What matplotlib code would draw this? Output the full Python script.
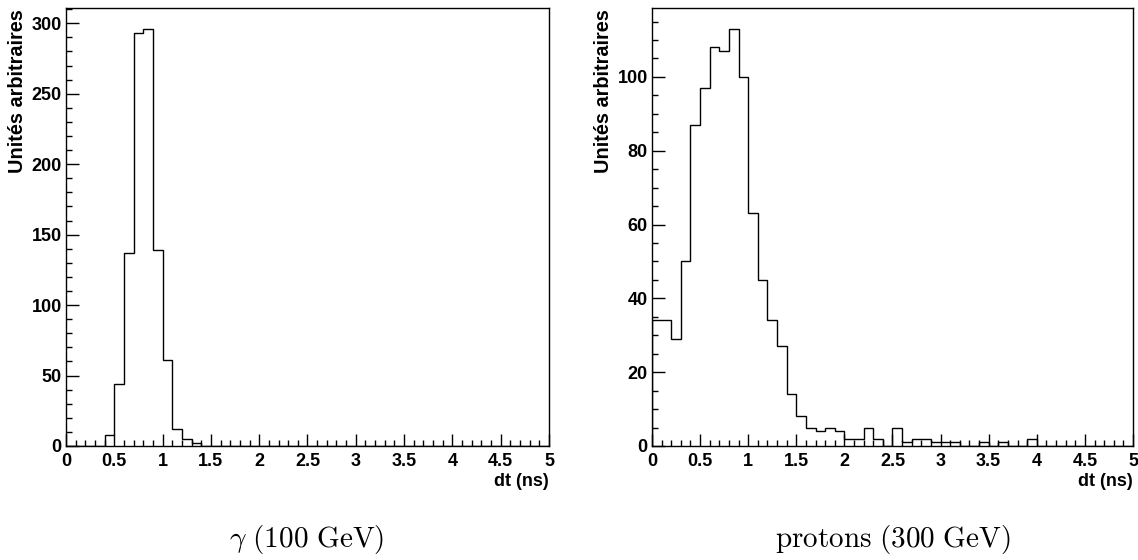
import numpy as np
import matplotlib
matplotlib.use('Agg')
import matplotlib.pyplot as plt
import matplotlib.ticker as ticker

plt.rcParams['font.family'] = ['Liberation Sans', 'DejaVu Sans']
plt.rcParams['font.weight'] = 'bold'
plt.rcParams['mathtext.fontset'] = 'cm'

# 50 bins of 0.1 ns from 0 to 5 ns
EDGES = np.round(np.arange(0, 5.01, 0.1), 2)

GAMMA_COUNTS = [0, 0, 0, 0, 8, 44, 137, 293, 296, 139,
                61, 12, 5, 2, 0, 0, 0, 0, 0, 0,
                0, 0, 0, 0, 0, 0, 0, 0, 0, 0,
                0, 0, 0, 0, 0, 0, 0, 0, 0, 0,
                0, 0, 0, 0, 0, 0, 0, 0, 0, 0]

PROTON_COUNTS = [34, 34, 29, 50, 87, 97, 108, 107, 113, 100,
                 63, 45, 34, 27, 14, 8, 5, 4, 5, 4,
                 2, 2, 5, 2, 0, 5, 1, 2, 2, 1,
                 1, 1, 0, 0, 1, 0, 1, 0, 0, 2,
                 0, 0, 0, 0, 0, 0, 0, 0, 0, 0]

CAPTIONS = [r'$\gamma\ \mathrm{(100\ GeV)}$', r'$\mathrm{protons\ (300\ GeV)}$']
YLABEL = 'Unités arbitraires'
XLABEL = 'dt (ns)'

fig = plt.figure(figsize=(11.38, 5.6), dpi=100)
ax1 = fig.add_axes([0.058, 0.2036, 0.4244, 0.782])
ax2 = fig.add_axes([0.5729, 0.2036, 0.4227, 0.782])


def draw_hist(ax, counts, major_y, minor_y):
    ax.stairs(counts, EDGES, color='black', lw=1.0, baseline=0)
    ax.set_xlim(0, 5)
    ax.set_ylim(0, max(counts) * 1.05)
    ax.xaxis.set_major_locator(ticker.MultipleLocator(0.5))
    ax.xaxis.set_minor_locator(ticker.MultipleLocator(0.1))
    ax.yaxis.set_major_locator(ticker.MultipleLocator(major_y))
    ax.yaxis.set_minor_locator(ticker.MultipleLocator(minor_y))
    ax.xaxis.set_major_formatter(ticker.FuncFormatter(lambda v, _: f'{v:g}'))
    ax.tick_params(which='both', direction='in', top=False, right=False,
                   width=1.0, labelsize=13)
    ax.tick_params(which='major', length=9)
    ax.tick_params(which='minor', length=4.5)
    ax.tick_params(axis='x', pad=5)
    ax.tick_params(axis='y', pad=3)
    for sp in ax.spines.values():
        sp.set_linewidth(1.0)
    ax.text(-0.1, 0.997, YLABEL, rotation=90, ha='center', va='top',
            fontsize=14.3, fontweight='bold', transform=ax.transAxes)
    ax.text(1.0, -0.08, XLABEL, ha='right', va='center',
            fontsize=13, fontweight='bold', transform=ax.transAxes)


draw_hist(ax1, GAMMA_COUNTS, 50, 10)
draw_hist(ax2, PROTON_COUNTS, 20, 5)

fig.text(307 / 1138, 1 - 540 / 560, CAPTIONS[0], ha='center', va='center', fontsize=21)
fig.text(893 / 1138, 1 - 540 / 560, CAPTIONS[1], ha='center', va='center', fontsize=21)

fig.savefig('out.png', dpi=100)
